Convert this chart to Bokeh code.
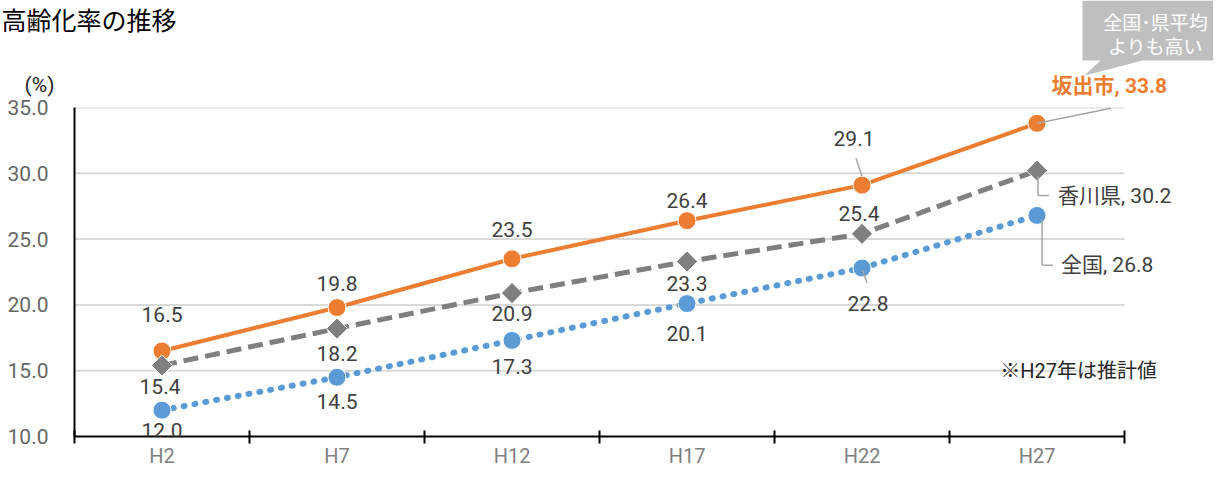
from bokeh.plotting import figure
from bokeh.models import FixedTicker, PrintfTickFormatter, Label, Range1d
from bokeh.layouts import column
from bokeh.core.properties import value
from bokeh.embed import file_html
from bokeh.resources import INLINE

# ---------------- data ----------------
categories = ["H2", "H7", "H12", "H17", "H22", "H27"]
sakaide = [16.5, 19.8, 23.5, 26.4, 29.1, 33.8]
kagawa = [15.4, 18.2, 20.9, 23.3, 25.4, 30.2]
zenkoku = [12.0, 14.5, 17.3, 20.1, 22.8, 26.8]
series_names = ["坂出市", "香川県", "全国"]
y_ticks = [10, 15, 20, 25, 30, 35]
title_text = "高齢化率の推移"
unit_text = "(%)"
note_text = "※H27年は推計値"
callout_lines = ["全国･県平均", "よりも高い"]

# ---------------- style ----------------
ORANGE = "#ED7D31"
GRAY = "#7F7F7F"
BLUE = "#5B9BD5"
LABEL_C = "#404040"
LEADER_C = "#A6A6A6"
NUM_FONT = "Roboto, 'Noto Sans CJK JP'"
JP_FONT = "Noto Sans CJK JP"

W = 1213
H = 470
TOP_H = 97
MAIN_H = H - TOP_H
LEFT = 74
BORDER_TOP = 10
BORDER_BOTTOM = 31

XS = 175.0                                            # px per category
YS = (MAIN_H - BORDER_TOP - 33) / 25.0                # px per unit (approx.)

xs = list(range(len(categories)))
last = len(xs) - 1

# ---------------- top strip (title, unit, callout) ----------------
top = figure(width=W, height=TOP_H, x_range=Range1d(0, W), y_range=Range1d(TOP_H, 0),
             x_axis_location=None, y_axis_location=None, output_backend="svg",
             toolbar_location=None, min_border=0)
top.frame_align = False
top.outline_line_color = None
top.xgrid.visible = False
top.ygrid.visible = False

top.text(x=[1], y=[18], text=[title_text], text_align="left", text_baseline="middle",
         text_font=value(JP_FONT), text_font_size="25px", text_color="black")
top.text(x=[39], y=[84], text=[unit_text], text_align="center", text_baseline="middle",
         text_font=value(NUM_FONT), text_font_size="21px", text_color="#262626")

cx = [1082, 1229, 1229, 1142, 1084, 1100, 1082]
cy = [0, 0, 60, 60, 75, 60, 60]
top.patch(cx, cy, fill_color="#BFBFBF", line_color=None)
top.text(x=[1155, 1155], y=[21, 45], text=callout_lines, text_align="center", text_baseline="middle",
         text_font=value(JP_FONT), text_font_size="19px", text_color="white")

top.text(x=[1051], y=[85], text=[f"{series_names[0]}, {sakaide[last]:.1f}"], text_align="left",
         text_baseline="middle", text_font=value(NUM_FONT), text_font_size="21px",
         text_font_style="bold", text_color=ORANGE)

# ---------------- main chart ----------------
p = figure(width=W, height=MAIN_H, x_range=Range1d(-0.5, -0.5 + (W - LEFT) / XS), y_range=Range1d(10, 35),
           output_backend="svg", toolbar_location=None,
           min_border_left=LEFT, min_border_right=0, min_border_top=BORDER_TOP, min_border_bottom=BORDER_BOTTOM)
p.frame_align = False
p.outline_line_color = None
p.xgrid.visible = False
p.ygrid.visible = False

yax = p.yaxis[0]
yax.ticker = FixedTicker(ticks=y_ticks)
yax.formatter = PrintfTickFormatter(format="%.1f")
yax.axis_line_color = "black"
yax.axis_line_width = 2
yax.major_tick_line_color = None
yax.major_tick_out = 0
yax.major_tick_in = 0
yax.minor_tick_line_color = None
yax.major_label_standoff = 26
yax.major_label_text_font = NUM_FONT
yax.major_label_text_font_size = "21px"
yax.major_label_text_color = "#666666"

xax = p.xaxis[0]
xax.bounds = (-0.5, 5.5)
xax.ticker = FixedTicker(ticks=xs, minor_ticks=[x - 0.5 for x in xs] + [xs[-1] + 0.5])
xax.major_label_overrides = {i: c for i, c in enumerate(categories)}
xax.axis_line_color = "black"
xax.axis_line_width = 2
xax.major_tick_line_color = None
xax.major_tick_out = 0
xax.major_tick_in = 0
xax.minor_tick_line_color = "black"
xax.minor_tick_line_width = 2
xax.minor_tick_in = 6
xax.minor_tick_out = 7
xax.major_label_standoff = 0
xax.major_label_text_font = NUM_FONT
xax.major_label_text_font_size = "20px"
xax.major_label_text_color = "#7F7F7F"

# horizontal gridlines limited to the category span
gy = y_ticks[1:]
p.segment(x0=[-0.5] * len(gy), y0=gy, x1=[5.5] * len(gy), y1=gy, line_color="#D9D9D9", line_width=2)

# series lines + markers
p.line(xs, sakaide, line_color=ORANGE, line_width=4)
p.scatter(xs, sakaide, marker="circle", size=18, fill_color=ORANGE, line_color="white", line_width=1)

p.line(xs, kagawa, line_color=GRAY, line_width=5, line_dash="15 7")
p.scatter(xs, kagawa, marker="square", angle=0.785398, size=15, fill_color=GRAY, line_color="white", line_width=1)

p.line(xs, zenkoku, line_color=BLUE, line_width=6, line_dash="1 10", line_cap="round")
p.scatter(xs, zenkoku, marker="circle", size=18, fill_color=BLUE, line_color="white", line_width=1)

# leader lines (pixel offsets from point)
def seg(x, y, a, b):
    return (x + a[0] / XS, y + a[1] / YS, x + b[0] / XS, y + b[1] / YS)

segs = [
    seg(xs[4], sakaide[4], (0, 9), (-6, 27)),
    seg(xs[4], zenkoku[4], (1, -3), (5, -15)),
    seg(xs[5], kagawa[5], (1, -5), (1, -25)),
    seg(xs[5], kagawa[5], (1, -25), (12, -25)),
    seg(xs[5], zenkoku[5], (5, -4), (5, -50)),
    seg(xs[5], zenkoku[5], (5, -50), (16, -50)),
    seg(xs[5], sakaide[5], (0, 0), (74, 15)),
]
p.segment([s[0] for s in segs], [s[1] for s in segs], [s[2] for s in segs], [s[3] for s in segs],
          line_color=LEADER_C, line_width=1.5)

# data labels (pixel offsets, up positive)
off_s = [(0, 36), (0, 24), (0, 29), (0, 20), (-8, 47)]
off_k = [(-2, -21), (0, -25), (0, -20), (0, -22), (-3, 20)]
off_z = [(0, -20), (0, -24), (0, -26), (0, -30), (6, -35)]
for vals, offs in ((sakaide, off_s), (kagawa, off_k), (zenkoku, off_z)):
    for i, (dx, dy) in enumerate(offs):
        p.add_layout(Label(x=xs[i], y=vals[i], x_offset=dx, y_offset=dy, text=f"{vals[i]:.1f}",
                           text_align="center", text_baseline="middle",
                           text_font=NUM_FONT, text_font_size="21px", text_color=LABEL_C))

p.add_layout(Label(x=xs[last], y=kagawa[last], x_offset=21, y_offset=-25,
                   text=f"{series_names[1]}, {kagawa[last]:.1f}", text_align="left", text_baseline="middle",
                   text_font=NUM_FONT, text_font_size="21px", text_color=LABEL_C))
p.add_layout(Label(x=xs[last], y=zenkoku[last], x_offset=24, y_offset=-50,
                   text=f"{series_names[2]}, {zenkoku[last]:.1f}", text_align="left", text_baseline="middle",
                   text_font=NUM_FONT, text_font_size="21px", text_color=LABEL_C))

# footnote, sitting on the 15.0 gridline left of the H27 point
p.add_layout(Label(x=4.79, y=15, text=note_text, text_align="left", text_baseline="middle",
                   text_font=NUM_FONT, text_font_size="20px", text_color="#262626"))

layout = column(top, p, spacing=0)
open("out.html", "w").write(file_html(layout, INLINE))
